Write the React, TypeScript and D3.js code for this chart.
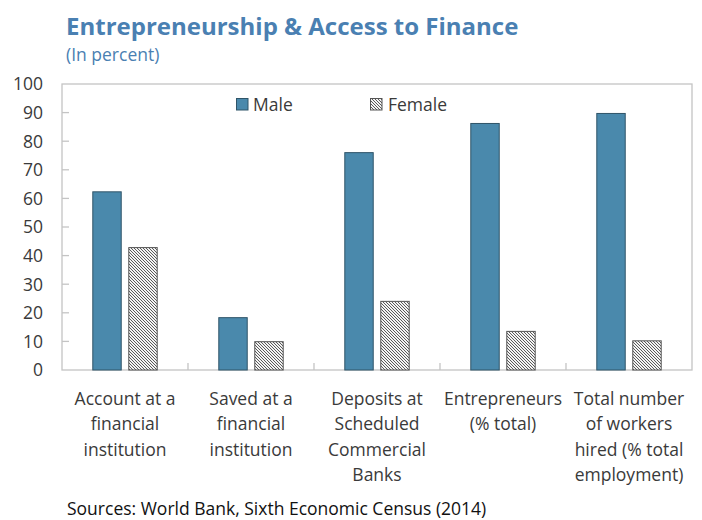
import React from "react";
import * as d3 from "d3";

const categories: string[][] = [
  ["Account at a", "financial", "institution"],
  ["Saved at a", "financial", "institution"],
  ["Deposits at", "Scheduled", "Commercial", "Banks"],
  ["Entrepreneurs", "(% total)"],
  ["Total number", "of workers", "hired (% total", "employment)"],
];
const seriesNames = ["Male", "Female"];
const maleValues = [62.3, 18.3, 76.0, 86.2, 89.7];
const femaleValues = [42.8, 9.9, 24.0, 13.5, 10.2];
const yTicks = [0, 10, 20, 30, 40, 50, 60, 70, 80, 90, 100];

const W = 702;
const H = 520;
const plot = { left: 62, right: 692, top: 84, bottom: 370 };
const FONT = "'Open Sans', 'Noto Sans', sans-serif";
const MALE_FILL = "#4a89ac";
const MALE_STROKE = "#2f5468";
const TITLE_COLOR = "#4a80b2";
const TEXT = "#3a3a3a";
const AXIS = "#c4c4c4";

export default function App() {
  const idx = categories.map((_, i) => String(i));
  const x = d3.scaleBand<string>().domain(idx).range([plot.left, plot.right]).padding(0);
  const inner = d3
    .scaleBand<string>()
    .domain(seriesNames)
    .range([0, x.bandwidth()])
    .paddingInner(0.21)
    .paddingOuter(0.856);
  const y = d3.scaleLinear().domain([0, 100]).range([plot.bottom, plot.top]);

  const bars = [
    { name: "Male", values: maleValues, fill: MALE_FILL, stroke: MALE_STROKE },
    { name: "Female", values: femaleValues, fill: "url(#hatch)", stroke: "#555555" },
  ];

  return (
    <div style={{ position: "absolute", left: 0, top: 0 }}>
      <svg width={W} height={H} style={{ display: "block", fontFamily: FONT }}>
        <defs>
          <pattern id="hatch" patternUnits="userSpaceOnUse" width="3" height="3">
            <rect width="3" height="3" fill="#f4f4f4" />
            <path d="M-1,-1 L4,4 M-1,2 L1,4 M2,-1 L4,1" stroke="#5a5a5a" strokeWidth="1" />
          </pattern>
        </defs>
        <rect width={W} height={H} fill="#ffffff" />

        <text x={66} y={35} fill={TITLE_COLOR} fontSize={24} fontWeight={700}>
          Entrepreneurship &amp; Access to Finance
        </text>
        <text x={66} y={61} fill={TITLE_COLOR} fontSize={17.5}>
          (In percent)
        </text>

        {/* plot frame */}
        <rect
          x={plot.left}
          y={plot.top}
          width={plot.right - plot.left}
          height={plot.bottom - plot.top}
          fill="none"
          stroke={AXIS}
          strokeWidth={1.3}
        />

        {/* y ticks */}
        {yTicks.map((t) => (
          <g key={t}>
            {t > 0 && t < 100 && (
              <line x1={plot.left} x2={plot.left + 7} y1={y(t)} y2={y(t)} stroke={AXIS} strokeWidth={1.3} />
            )}
            <text x={43} y={y(t)} dy="0.36em" textAnchor="end" fontSize={17.5} fill={TEXT}>
              {t}
            </text>
          </g>
        ))}

        {/* category ticks */}
        {idx.slice(1).map((k) => (
          <line
            key={k}
            x1={x(k)!}
            x2={x(k)!}
            y1={plot.bottom}
            y2={plot.bottom - 7}
            stroke={AXIS}
            strokeWidth={1.3}
          />
        ))}

        {/* bars */}
        {bars.map((s) =>
          s.values.map((v, i) => (
            <rect
              key={s.name + i}
              x={x(String(i))! + inner(s.name)!}
              y={y(v)}
              width={inner.bandwidth()}
              height={y(0) - y(v)}
              fill={s.fill}
              stroke={s.stroke}
              strokeWidth={1}
            />
          ))
        )}

        {/* category labels */}
        {categories.map((lines, i) => (
          <text
            key={i}
            x={x(String(i))! + x.bandwidth() / 2}
            y={405}
            textAnchor="middle"
            fontSize={17.5}
            fill={TEXT}
          >
            {lines.map((l, j) => (
              <tspan key={j} x={x(String(i))! + x.bandwidth() / 2} dy={j === 0 ? 0 : 25.3}>
                {l}
              </tspan>
            ))}
          </text>
        ))}

        {/* legend */}
        <rect x={236.5} y={98.5} width={11.5} height={11.5} fill={MALE_FILL} stroke={MALE_STROKE} strokeWidth={1} />
        <text x={253} y={110.5} fontSize={17.5} fill={TEXT}>
          Male
        </text>
        <rect x={370.5} y={98.5} width={11.5} height={11.5} fill="url(#hatch)" stroke="#555555" strokeWidth={1} />
        <text x={388} y={110.5} fontSize={17.5} fill={TEXT}>
          Female
        </text>

        <text x={67} y={515} fontSize={17.5} fill="#111111">
          Sources: World Bank, Sixth Economic Census (2014)
        </text>
      </svg>
    </div>
  );
}
